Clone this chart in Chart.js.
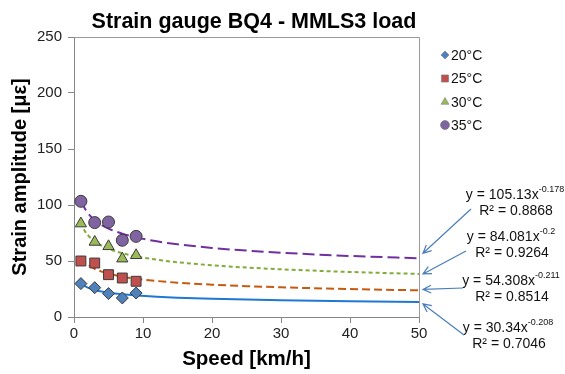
<!DOCTYPE html>
<html>
<head>
<meta charset="utf-8">
<script src="https://cdn.jsdelivr.net/npm/chart.js@4"></script>
<style>
  html, body { margin: 0; padding: 0; background: #fff; }
</style>
</head>
<body>
<canvas id="strainChart" width="565" height="374"></canvas>
<script>
// measured points
const speeds = [1, 3, 5, 7, 9];
const strain20 = [29.8, 26.2, 20.9, 17.0, 21.4];
const strain25 = [50.0, 48.2, 37.8, 34.8, 31.9];
const strain30 = [83.4, 67.0, 63.1, 52.1, 55.1];
const strain35 = [103.3, 84.3, 84.8, 68.5, 72.0];
const seriesLabels = ['20°C', '25°C', '30°C', '35°C'];

// power trendlines
const trendSpeeds = [1, 1.5, 2, 3, 4, 5, 7, 9, 12, 15, 20, 25, 30, 40, 50];
const trend20 = [30.34, 27.89, 26.27, 24.14, 22.74, 21.71, 20.24, 19.21, 18.09, 17.27, 16.27, 15.53, 14.96, 14.09, 13.45];
const trend25 = [54.31, 49.85, 46.92, 43.07, 40.54, 38.67, 36.02, 34.16, 32.15, 30.67, 28.86, 27.53, 26.50, 24.93, 23.79];
const trend30 = [84.08, 77.53, 73.20, 67.49, 63.72, 60.94, 56.97, 54.18, 51.15, 48.92, 46.19, 44.17, 42.59, 40.21, 38.45];
const trend35 = [105.13, 97.81, 92.93, 86.46, 82.14, 78.94, 74.36, 71.10, 67.56, 64.93, 61.68, 59.27, 57.39, 54.52, 52.40];

// trendline equations
const eqCoef = ['105.13', '84.081', '54.308', '30.34'];
const eqExp = ['-0.178', '-0.2', '-0.211', '-0.208'];
const eqR2 = ['0.8868', '0.9264', '0.8514', '0.7046'];

const xTicks = [0, 10, 20, 30, 40, 50];
const yTicks = [0, 50, 100, 150, 200, 250];

const FONT = "'Liberation Sans', Arial, sans-serif";

function pts(xs, ys) {
    let out = [];
    for (let i = 0; i < xs.length; i++) {
        out.push({x: xs[i], y: ys[i]});
    }
    return out;
}

function markerSet(label, data, style, color, radius) {
    return {
        label: label,
        data: pts(speeds, data),
        pointStyle: style,
        pointRadius: radius,
        pointBackgroundColor: color,
        pointBorderColor: '#3a3a3a',
        pointBorderWidth: 1,
        showLine: false
    };
}

function trendSet(data, color, dash) {
    return {
        label: 'trend',
        data: pts(trendSpeeds, data),
        showLine: true,
        pointRadius: 0,
        borderColor: color,
        borderWidth: 2,
        borderDash: dash,
        cubicInterpolationMode: 'monotone',
        fill: false
    };
}

// title, legend, frame and the equation call-outs
const extras = {
    id: 'extras',
    afterDraw(chart) {
        const ctx = chart.ctx;
        const area = chart.chartArea;
        const xs = chart.scales.x;
        const ys = chart.scales.y;
        ctx.save();

        // frame top + right
        ctx.strokeStyle = '#9a9a9a';
        ctx.lineWidth = 1;
        ctx.beginPath();
        ctx.moveTo(Math.round(area.left) + 0.5, Math.round(area.top) + 0.5);
        ctx.lineTo(Math.round(area.right) + 0.5, Math.round(area.top) + 0.5);
        ctx.lineTo(Math.round(area.right) + 0.5, Math.round(area.bottom) + 0.5);
        ctx.stroke();

        // title
        ctx.fillStyle = '#000';
        ctx.font = 'bold 21.5px ' + FONT;
        ctx.textAlign = 'center';
        ctx.textBaseline = 'middle';
        ctx.fillText('Strain gauge BQ4 - MMLS3 load', 254, 22);

        // legend
        const legY = [55, 78.5, 102, 125];
        const legR = [4, 5, 4.5, 4.5];
        ctx.font = '14px ' + FONT;
        ctx.textAlign = 'left';
        for (let i = 0; i < 4; i++) {
            const ds = chart.data.datasets[i];
            ctx.fillStyle = ds.pointBackgroundColor;
            ctx.strokeStyle = '#777';
            ctx.lineWidth = 0.6;
            Chart.helpers.drawPoint(ctx, {pointStyle: ds.pointStyle, radius: legR[i], rotation: 0, borderWidth: 0.6}, 445, legY[i]);
            ctx.fillStyle = '#111';
            ctx.fillText(ds.label, 451, legY[i] + 1);
        }

        // equations
        const cx = [515, 511, 511, 508];
        const eqY = [195, 237, 281, 328];
        const curves = [trend35, trend30, trend25, trend20];
        const tipDy = [-5, 0, -1, 2];
        const starts = [[471, 209], [466, 251], [463, 288], [464, 335]];
        for (let i = 0; i < 4; i++) {
            const main = 'y = ' + eqCoef[i] + 'x';
            ctx.font = '14px ' + FONT;
            const wMain = ctx.measureText(main).width;
            ctx.font = '9px ' + FONT;
            const wExp = ctx.measureText(eqExp[i]).width;
            let x0 = cx[i] - (wMain + wExp) / 2;
            ctx.fillStyle = '#111';
            ctx.textAlign = 'left';
            ctx.font = '14px ' + FONT;
            ctx.fillText(main, x0, eqY[i]);
            ctx.font = '9px ' + FONT;
            ctx.fillText(eqExp[i], x0 + wMain, eqY[i] - 5);
            ctx.font = '14px ' + FONT;
            ctx.textAlign = 'center';
            ctx.fillText('R² = ' + eqR2[i], cx[i] + 1, eqY[i] + 16);

            // arrow to end of curve
            const tx = xs.getPixelForValue(50) + 4;
            const ty = ys.getPixelForValue(curves[i][curves[i].length - 1]) + tipDy[i];
            const sx = starts[i][0], sy = starts[i][1];
            const ang = Math.atan2(ty - sy, tx - sx);
            ctx.strokeStyle = '#4a7ebb';
            ctx.lineWidth = 1.2;
            ctx.beginPath();
            ctx.moveTo(sx, sy);
            ctx.lineTo(tx, ty);
            ctx.moveTo(tx - 9 * Math.cos(ang - 0.45), ty - 9 * Math.sin(ang - 0.45));
            ctx.lineTo(tx, ty);
            ctx.lineTo(tx - 9 * Math.cos(ang + 0.45), ty - 9 * Math.sin(ang + 0.45));
            ctx.stroke();
        }
        ctx.restore();
    }
};

const ctx = document.getElementById('strainChart');
new Chart(ctx, {
    type: 'scatter',
    data: {
        datasets: [
            markerSet(seriesLabels[0], strain20, 'rectRot', '#4f81bd', 6),
            markerSet(seriesLabels[1], strain25, 'rect', '#c0504d', 7),
            markerSet(seriesLabels[2], strain30, 'triangle', '#9bbb59', 6.5),
            markerSet(seriesLabels[3], strain35, 'circle', '#8064a2', 6),
            trendSet(trend20, '#1f78d1', []),
            trendSet(trend25, '#c55a11', [8, 4]),
            trendSet(trend30, '#7fad3a', [4, 3]),
            trendSet(trend35, '#7030a0', [12, 5])
        ]
    },
    options: {
        responsive: false,
        animation: false,
        devicePixelRatio: 1,
        layout: { padding: { top: 37, right: 146, left: 0, bottom: 0 } },
        plugins: {
            legend: { display: false },
            tooltip: { enabled: false }
        },
        scales: {
            x: {
                type: 'linear',
                min: 0,
                max: 50,
                afterFit: function(scale) { scale.height = 57; },
                afterBuildTicks: function(scale) { scale.ticks = xTicks.map(v => ({value: v})); },
                grid: { drawOnChartArea: false, tickLength: 6, color: '#868686' },
                border: { color: '#868686' },
                ticks: { font: { family: FONT, size: 15 }, color: '#222', padding: 2 },
                title: { display: true, text: 'Speed [km/h]', font: { family: FONT, size: 20.5, weight: 'bold' }, color: '#000', padding: { top: 0, bottom: 2 } }
            },
            y: {
                type: 'linear',
                min: 0,
                max: 250,
                afterFit: function(scale) { scale.width = 74; },
                afterBuildTicks: function(scale) { scale.ticks = yTicks.map(v => ({value: v})); },
                grid: { drawOnChartArea: false, tickLength: 6, color: '#868686' },
                border: { color: '#868686' },
                ticks: { font: { family: FONT, size: 15 }, color: '#222', padding: 6 },
                title: { display: true, text: 'Strain amplitude [με]', font: { family: FONT, size: 20, weight: 'bold' }, color: '#000', padding: { top: 8, bottom: 0 } }
            }
        }
    },
    plugins: [extras]
});
</script>
</body>
</html>
